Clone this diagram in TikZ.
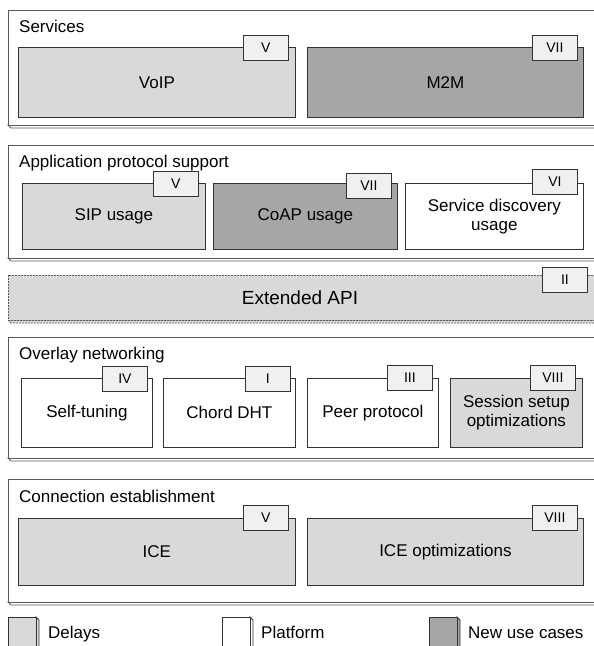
\documentclass[tikz,border=0pt]{standalone}
\usepackage{fontspec}
\setmainfont{Liberation Sans}
\definecolor{delay}{HTML}{D9D9D9}
\definecolor{newuse}{HTML}{A6A6A6}
\definecolor{tagfill}{HTML}{F0F0F0}
\definecolor{framec}{HTML}{5A5A5A}
\definecolor{boxc}{HTML}{333333}
\tikzset{
  layer/.style={draw=framec, fill=white, line width=0.9pt},
  comp/.style={draw=boxc, line width=0.8pt, anchor=north west, inner sep=0pt, align=center, font=\fontsize{17}{19}\selectfont},
  tagbox/.style={draw=boxc, fill=tagfill, line width=0.8pt, anchor=north west, inner sep=0pt, minimum width=45pt, minimum height=25pt, font=\fontsize{14}{16}\selectfont},
  ltitle/.style={anchor=base west, inner sep=0pt, font=\fontsize{17}{19}\selectfont},
  legsq/.style={draw=boxc, line width=0.8pt},
  legtext/.style={anchor=base west, inner sep=0pt, font=\fontsize{17}{19}\selectfont},
}
\begin{document}
\begin{tikzpicture}[x=1pt,y=-1pt]
\useasboundingbox (0,0) rectangle (594,646);
\clip (0,0) rectangle (594,646);
% ---------- layer frames (front face + thin bottom depth) ----------
\newcommand{\layerframe}[3]{% #1 top, #2 bottom, #3 extra options
  \draw[layer,#3] (8,#2) -- (11,#2+3) -- (620,#2+3) -- (620,#2) -- cycle;
  \draw[layer,#3] (8,#1) rectangle (620,#2);
}
\layerframe{10}{125}{}
\layerframe{145}{258}{}
\layerframe{275}{320}{dashed, fill=delay, dash pattern=on 2pt off 1pt}
\layerframe{337}{458}{}
\layerframe{479}{602}{}
% ---------- Services ----------
\node[ltitle] (tserv) at (19,32) {Services};
\node[comp, fill=delay, minimum width=277pt, minimum height=70pt] (voip) at (18,47) {VoIP};
\node[tagbox] (tvoip) at (243,35) {V};
\node[comp, fill=newuse, minimum width=276pt, minimum height=70pt] (m2m) at (307,47) {M2M};
\node[tagbox] (tm2m) at (532,35) {VII};
% ---------- Application protocol support ----------
\node[ltitle] (tapp) at (19,167) {Application protocol support};
\node[comp, fill=delay, minimum width=183pt, minimum height=66pt] (sip) at (22,183) {SIP usage};
\node[tagbox] (tsip) at (153,171) {V};
\node[comp, fill=newuse, minimum width=184pt, minimum height=66pt] (coap) at (213,183) {CoAP usage};
\node[tagbox] (tcoap) at (346,173) {VII};
\node[comp, fill=white, minimum width=178pt, minimum height=66pt] (sd) at (405,183) {Service discovery\\usage};
\node[tagbox] (tsd) at (532,169) {VI};
% ---------- Extended API ----------
\node[inner sep=0pt, font=\fontsize{19}{21}\selectfont] (api) at (300,298) {Extended API};
\node[tagbox] (tapi) at (542,267) {II};
% ---------- Overlay networking ----------
\node[ltitle] (tover) at (19,359) {Overlay networking};
\node[comp, fill=white, minimum width=131pt, minimum height=69pt] (self) at (21,378) {Self-tuning};
\node[tagbox] (tself) at (102,366) {IV};
\node[comp, fill=white, minimum width=132pt, minimum height=69pt] (chord) at (163,378) {Chord DHT};
\node[tagbox] (tchord) at (245,366) {I};
\node[comp, fill=white, minimum width=131pt, minimum height=69pt] (peer) at (307,378) {Peer protocol};
\node[tagbox] (tpeer) at (387,365) {III};
\node[comp, fill=delay, minimum width=132pt, minimum height=69pt] (sess) at (450,378) {Session setup\\optimizations};
\node[tagbox] (tsess) at (530,365) {VIII};
% ---------- Connection establishment ----------
\node[ltitle] (tconn) at (19,502) {Connection establishment};
\node[comp, fill=delay, minimum width=277pt, minimum height=67pt] (ice) at (18,518) {ICE};
\node[tagbox] (tice) at (243,505) {V};
\node[comp, fill=delay, minimum width=276pt, minimum height=67pt] (iceo) at (307,518) {ICE optimizations};
\node[tagbox] (ticeo) at (532,505) {VIII};
% ---------- Legend ----------
\newcommand{\legsquare}[3]{% #1 x, #2 fill, #3 name
  \draw[legsq, fill=#2] (#1+28,617) -- (#1+31,620) -- (#1+31,650) -- (#1+28,650) -- cycle;
  \draw[legsq, fill=#2] (#1,617) rectangle (#1+28,650);
  \coordinate (#3) at (#1,617);
}
\legsquare{8}{delay}{ldel}
\node[legtext] (ldeltxt) at (48,638) {Delays};
\legsquare{222}{white}{lplat}
\node[legtext] (lplattxt) at (261,638) {Platform};
\legsquare{429}{newuse}{lnew}
\node[legtext] (lnewtxt) at (468,638) {New use cases};
\end{tikzpicture}
\end{document}
